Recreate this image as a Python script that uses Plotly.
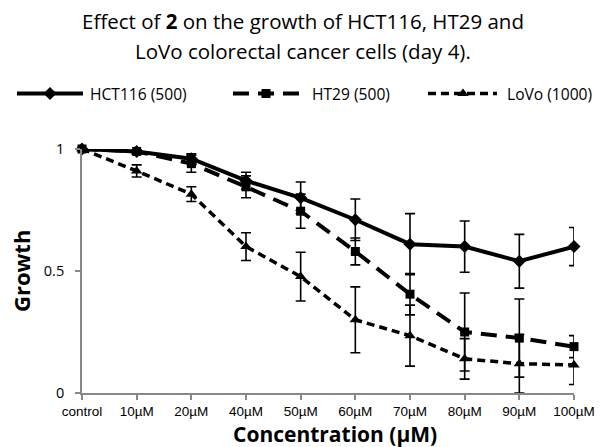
import plotly.graph_objects as go

# ---------------- data ----------------
categories = ["control", "10µM", "20µM", "40µM", "50µM", "60µM", "70µM", "80µM", "90µM", "100µM"]

hct116 = [1.00, 0.99, 0.96, 0.87, 0.80, 0.71, 0.61, 0.60, 0.54, 0.60]
hct116_err = [0.01, 0.01, 0.02, 0.035, 0.065, 0.085, 0.125, 0.105, 0.11, 0.078]

ht29 = [1.00, 0.99, 0.94, 0.845, 0.745, 0.58, 0.405, 0.25, 0.225, 0.19]
ht29_err = [0.01, 0.01, 0.035, 0.045, 0.07, 0.055, 0.085, 0.16, 0.16, 0.045]

lovo = [1.00, 0.91, 0.815, 0.60, 0.477, 0.30, 0.235, 0.14, 0.12, 0.115]
lovo_err = [0.01, 0.025, 0.03, 0.057, 0.10, 0.135, 0.125, 0.083, 0.12, 0.08]

y_tick_values = [0, 0.5, 1]
y_tick_labels = ["0", "0.5", "1"]

series_names = ["HCT116 (500)", "HT29 (500)", "LoVo (1000)"]

# ---------------- layout constants (pixels) ----------------
W, H = 606, 447
PLOT_L, PLOT_R, PLOT_T, PLOT_B = 82, 574, 149, 393

def px(x):
    return x / W

def py(y):
    return 1 - y / H

FONT = "Open Sans"
TICK_FONT = "Liberation Sans"

styles = [
    dict(dash="solid", symbol="diamond", width=4, size=10),
    dict(dash="16px,9px", symbol="square", width=4, size=9),
    dict(dash="8px,5px", symbol="triangle-up", width=3.5, size=10),
]

# legend sample placement: (line start, line end, marker x, text x)
legend_slots = [(17, 83, 50, 88), (233, 300, 266, 310), (428, 497, 463, 505)]
LEGEND_Y = 93.5

fig = go.Figure()
for name, vals, errs, st in zip(series_names, [hct116, ht29, lovo], [hct116_err, ht29_err, lovo_err], styles):
    fig.add_trace(go.Scatter(
        x=categories, y=vals, name=name, mode="lines+markers",
        line=dict(color="black", width=st["width"], dash=st["dash"]),
        marker=dict(symbol=st["symbol"], size=st["size"], color="black"),
        error_y=dict(type="data", array=errs, visible=True, color="black", thickness=1.6, width=5),
        cliponaxis=False, showlegend=False,
    ))

# custom legend on a hidden pixel-unit overlay axis
for name, st, (x0, x1, xm, xt) in zip(series_names, styles, legend_slots):
    fig.add_trace(go.Scatter(
        x=[x0, x1], y=[LEGEND_Y, LEGEND_Y], mode="lines", xaxis="x2", yaxis="y2",
        line=dict(color="black", width=st["width"], dash=st["dash"]),
        showlegend=False, hoverinfo="skip", cliponaxis=False,
    ))
    fig.add_trace(go.Scatter(
        x=[xm], y=[LEGEND_Y], mode="markers", xaxis="x2", yaxis="y2",
        marker=dict(symbol=st["symbol"], size=st["size"], color="black"),
        showlegend=False, hoverinfo="skip", cliponaxis=False,
    ))

annotations = [
    dict(text="Effect of <b>2</b> on the growth of HCT116, HT29 and", x=0.5, y=py(21.5),
         font=dict(family=FONT, size=20.5, color="black")),
    dict(text="LoVo colorectal cancer cells (day 4).", x=0.5, y=py(50.5),
         font=dict(family=FONT, size=20.5, color="black")),
    dict(text="<b>Concentration (µM)</b>", x=px((PLOT_L + PLOT_R) / 2 + 7), y=py(433.5),
         font=dict(family=FONT, size=21, color="black")),
    dict(text="<b>Growth</b>", x=px(21), y=py((PLOT_T + PLOT_B) / 2), textangle=-90,
         font=dict(family=FONT, size=22, color="black")),
]
for name, (x0, x1, xm, xt) in zip(series_names, legend_slots):
    annotations.append(dict(text=name, x=px(xt), y=py(LEGEND_Y), xanchor="left",
                            font=dict(family=FONT, size=15.6, color="black")))
for a in annotations:
    a.setdefault("xref", "paper")
    a.setdefault("yref", "paper")
    a.setdefault("showarrow", False)
    a.setdefault("xanchor", "center")
    a.setdefault("yanchor", "middle")

fig.update_layout(
    width=W, height=H,
    margin=dict(l=0, r=0, t=0, b=0),
    paper_bgcolor="white", plot_bgcolor="rgba(0,0,0,0)",
    showlegend=False,
    annotations=annotations,
    xaxis=dict(
        domain=[px(PLOT_L), px(PLOT_R)], type="category", range=[0, 9],
        showline=True, linecolor="#888888", linewidth=1.8,
        ticks="outside", ticklen=5, tickwidth=1.5, tickcolor="#888888",
        ticklabelstandoff=0,
        showgrid=False, zeroline=False, automargin=False,
        tickfont=dict(family=TICK_FONT, size=13.5, color="black"),
    ),
    yaxis=dict(
        domain=[py(PLOT_B), py(PLOT_T)], range=[0, 1],
        tickvals=y_tick_values, ticktext=y_tick_labels,
        showline=True, linecolor="#888888", linewidth=1.8,
        ticks="outside", ticklen=5, tickwidth=1.5, tickcolor="#888888",
        ticklabelstandoff=8,
        showgrid=False, zeroline=False, automargin=False,
        tickfont=dict(family=FONT, size=14.5, color="black"),
    ),
    xaxis2=dict(domain=[0, 1], range=[0, W], visible=False, anchor="y2"),
    yaxis2=dict(domain=[0, 1], range=[H, 0], visible=False, anchor="x2"),
)

# remove the default 8px page margin so the figure fills the window exactly
fig.write_html(
    "out.html",
    config={"displayModeBar": False},
    post_script="document.body.style.margin='0';document.body.style.overflow='hidden';",
)
